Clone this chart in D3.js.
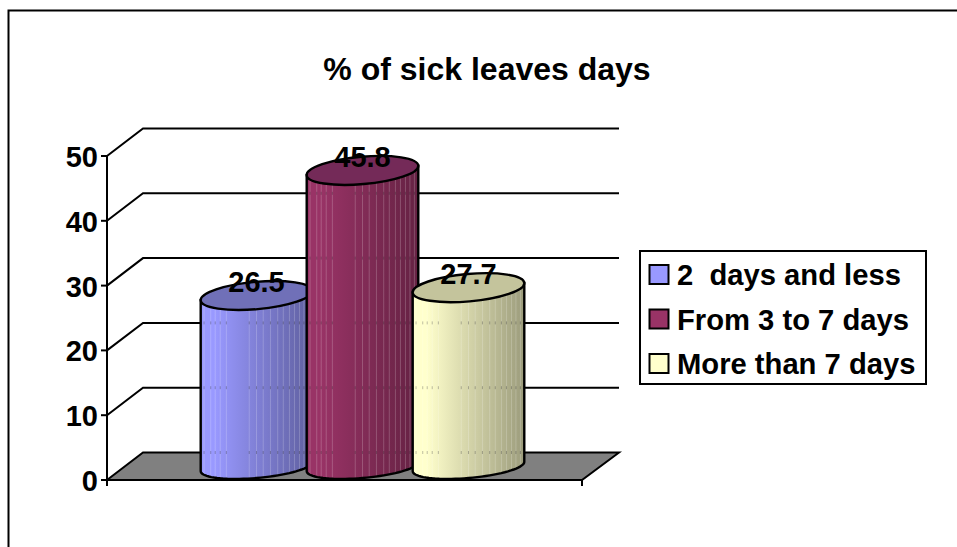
<!DOCTYPE html>
<html>
<head>
<meta charset="utf-8">
<script src="https://cdnjs.cloudflare.com/ajax/libs/d3/7.8.5/d3.min.js"></script>
<style>
  html, body { margin: 0; padding: 0; background: #fff; }
  svg { display: block; }
  text { font-family: "Liberation Sans", Arial, sans-serif; font-weight: bold; fill: #000; }
</style>
</head>
<body>
<svg id="chart" width="957" height="547"></svg>
<script>
const titleText = "% of sick leaves days";
const categories = ["2  days and less", "From 3 to 7 days", "More than 7 days"];
const values = [26.5, 45.8, 27.7];
const yTicks = [0, 10, 20, 30, 40, 50];
const lightColors = ["#9999ff", "#993366", "#ffffcc"];
const darkColors = ["#5f5f9f", "#652243", "#9c9c7c"];
const capColors = ["#7070b8", "#742a58", "#c4c49c"];
// Offsets of the paler facet seams across one cylinder, as a share of its width
const seams = [0.03, 0.09, 0.13, 0.175, 0.23, 0.435, 0.5, 0.56, 0.625, 0.69, 0.74, 0.795, 0.84, 0.885, 0.925, 0.965];

const svg = d3.select("#chart");
const defs = svg.append("defs");

// Plot box: front plane of the pseudo-3D chart plus the depth offset of its back wall
const front = { left: 107, right: 582, top: 156, bottom: 480 };
const depth = { x: 36, y: -27.5 };
const y = d3.scaleLinear().domain([0, 50]).range([front.bottom, front.top]);
const x = d3.scaleBand().domain(categories).range([203.5, 521.5]);

// Outer frame runs off the right and bottom edges
svg.append("path").attr("d", "M8.5,547V10.5H957").attr("fill", "none").attr("stroke", "#000").attr("stroke-width", 2);

svg.append("text").attr("x", 487).attr("y", 80).attr("text-anchor", "middle")
  .attr("font-size", 32).text(titleText);

// Floor
svg.append("path")
  .attr("d", d3.line()([
    [front.left, y(0)], [front.left + depth.x, y(0) + depth.y],
    [front.right + depth.x + 1, y(0) + depth.y], [front.right, y(0)]
  ]) + "Z")
  .attr("fill", "#808080").attr("stroke", "#000").attr("stroke-width", 2);

// Gridlines along the side and back walls
const grid = svg.append("g").attr("fill", "none").attr("stroke", "#000").attr("stroke-width", 2);
grid.selectAll("path").data(yTicks.filter(d => d > 0)).join("path")
  .attr("d", d => d3.line()([
    [front.left, y(d)], [front.left + depth.x, y(d) + depth.y], [front.right + depth.x + 1, y(d) + depth.y]
  ]));

// Value axis with its outward ticks
const axisG = svg.append("g").attr("stroke", "#000").attr("stroke-width", 2);
axisG.append("line").attr("x1", front.left).attr("x2", front.left).attr("y1", y(50)).attr("y2", y(0) + 6);
axisG.selectAll("line.tick").data(yTicks).join("line").attr("class", "tick")
  .attr("x1", front.left - 6).attr("x2", front.left).attr("y1", d => y(d)).attr("y2", d => y(d));
axisG.append("line").attr("x1", front.right).attr("x2", front.right).attr("y1", y(0)).attr("y2", y(0) + 6);

svg.append("g").selectAll("text").data(yTicks).join("text")
  .attr("x", 98).attr("y", d => y(d) + 11).attr("text-anchor", "end")
  .attr("font-size", 29).text(d => d);

// Cylinders, left to right in category order
const rx = 56, ry = 13.7, baseRy = 11.5, tilt = -5;
const rad = tilt * Math.PI / 180;
const bottomShift = -12.8; // floor contact of the axis of each cylinder
const edgeParam = b => Math.atan2(-b * Math.sin(rad), rx * Math.cos(rad));
const edgeT = edgeParam(ry);
const baseEdgeT = edgeParam(baseRy);
const halfW = rx * Math.cos(edgeT) * Math.cos(rad) - ry * Math.sin(edgeT) * Math.sin(rad);

// Point on a tilted ellipse at parameter t
const ellipsePoint = (cx, cy, t, b = ry) => [
  cx + rx * Math.cos(t) * Math.cos(rad) - b * Math.sin(t) * Math.sin(rad),
  cy + rx * Math.cos(t) * Math.sin(rad) + b * Math.sin(t) * Math.cos(rad)
];
const arcSteps = d3.range(0, 41).map(k => baseEdgeT + Math.PI * k / 40);

categories.forEach((cat, i) => {
  const cx = x(cat) + x.bandwidth() / 2;
  const base = y(0) + bottomShift - 0.7;
  const top = y(values[i]) + bottomShift;
  const gid = "shade" + i;
  const g = defs.append("linearGradient").attr("id", gid);
  g.append("stop").attr("offset", "0%").attr("stop-color", lightColors[i]);
  g.append("stop").attr("offset", "12%").attr("stop-color", lightColors[i]);
  g.append("stop").attr("offset", "100%").attr("stop-color", darkColors[i]);

  // Right top edge, down the right side, round the bottom, up the left side
  const outline = [ellipsePoint(cx, top, edgeT)]
    .concat(arcSteps.map(t => ellipsePoint(cx, base, t, baseRy)))
    .concat([ellipsePoint(cx, top, edgeT + Math.PI)]);
  const body = d3.line()(outline) + "Z";

  const clipId = "clip" + i;
  defs.append("clipPath").attr("id", clipId).append("path").attr("d", body);

  const bar = svg.append("g");
  bar.append("path").attr("d", body).attr("fill", `url(#${gid})`);

  const inner = bar.append("g").attr("clip-path", `url(#${clipId})`);
  inner.selectAll("line.seam").data(seams).join("line").attr("class", "seam")
    .attr("x1", s => cx - halfW + s * 2 * halfW).attr("x2", s => cx - halfW + s * 2 * halfW)
    .attr("y1", top - 20).attr("y2", base + 20)
    .attr("stroke", "#fff").attr("stroke-opacity", 0.2).attr("stroke-width", 1);
  // Back gridlines show faintly where they cross a seam
  yTicks.filter(d => y(d) + depth.y > top).forEach(d => {
    inner.selectAll(null).data(seams).join("line")
      .attr("x1", s => cx - halfW + s * 2 * halfW).attr("x2", s => cx - halfW + s * 2 * halfW)
      .attr("y1", y(d) + depth.y - 1.5).attr("y2", y(d) + depth.y + 1.5)
      .attr("stroke", "#000").attr("stroke-opacity", 0.25).attr("stroke-width", 1);
  });

  bar.append("path").attr("d", body).attr("fill", "none").attr("stroke", "#000").attr("stroke-width", 2.4);
  bar.append("ellipse").attr("cx", cx).attr("cy", top).attr("rx", rx).attr("ry", ry)
    .attr("transform", `rotate(${tilt} ${cx} ${top})`)
    .attr("fill", capColors[i]).attr("stroke", "#000").attr("stroke-width", 2.4);
});

// Value labels sit on the cylinder caps
svg.append("g").selectAll("text").data(categories).join("text")
  .attr("x", c => x(c) + x.bandwidth() / 2)
  .attr("y", (c, i) => y(values[i]) + bottomShift - 3.7)
  .attr("text-anchor", "middle").attr("font-size", 29)
  .text((c, i) => values[i].toFixed(1));

// Legend
const legend = svg.append("g");
legend.append("rect").attr("x", 640).attr("y", 251).attr("width", 286).attr("height", 133)
  .attr("fill", "#fff").attr("stroke", "#000").attr("stroke-width", 2);
const legendRow = d3.scalePoint().domain(categories).range([274.5, 363.5]);
legend.selectAll("rect.key").data(categories).join("rect").attr("class", "key")
  .attr("x", 649.5).attr("y", c => legendRow(c) - 9.5).attr("width", 19).attr("height", 19)
  .attr("fill", (c, i) => lightColors[i]).attr("stroke", "#000").attr("stroke-width", 2);
legend.selectAll("text").data(categories).join("text")
  .attr("x", 677).attr("y", c => legendRow(c) + 10.5).attr("font-size", 29.2)
  .style("white-space", "pre").text(c => c);
</script>
</body>
</html>
